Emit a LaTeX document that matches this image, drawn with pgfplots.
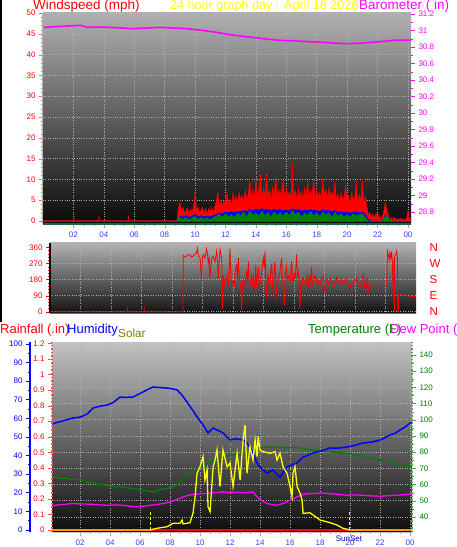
\documentclass[border=0pt]{standalone}
\usepackage{pgfplots}
\pgfplotsset{compat=1.18}
\usepackage{fontspec}
\setmainfont{Liberation Sans}
\definecolor{lblue}{RGB}{60,60,255}
\definecolor{wred}{RGB}{255,0,0}
\definecolor{mag}{RGB}{255,0,255}
\definecolor{dgreen}{RGB}{0,128,0}
\definecolor{olivec}{RGB}{128,128,0}
\definecolor{sunyel}{RGB}{255,255,0}
\definecolor{orng}{RGB}{255,150,0}
\definecolor{gridc}{RGB}{175,175,175}
\definecolor{teal2}{RGB}{30,100,70}
\pgfplotsset{
  base/.style={scale only axis, anchor=south west,
    tick label style={font=\fontsize{8}{9}\selectfont},
    /pgf/number format/assume math mode=true,
    tick align=outside, major tick length=4pt, minor tick length=2pt,
    grid style={dotted, gridc, line width=0.6pt}},
  hours/.style={xtick={2,4,...,24}, xticklabels={02,04,06,08,10,12,14,16,18,20,22,00},
    minor x tick num=2, xticklabel style={text=lblue}, x tick style={gray!70}},
}
\begin{document}
\begin{tikzpicture}
\useasboundingbox (0pt,0pt) rectangle (456pt,547pt);
\fill[white] (0pt,0pt) rectangle (456pt,547pt);
\draw[black, line width=2.5pt] (1pt,547pt) -- (1pt,225pt);

% ================= TOP PANEL: windspeed =================
\begin{axis}[base, hours, at={(43pt,323pt)}, width=368pt, height=211pt,
  xmin=0, xmax=24.2, ymin=-0.7, ymax=50,
  axis background/.style={top color=black!31, bottom color=black!96},
  axis x line*=bottom, axis y line*=left,
  x axis line style={draw=teal2, line width=2pt, -},
  y axis line style={draw=gray!60, line width=1pt, -},
  ytick={0,5,...,50}, minor y tick num=4,
  yticklabel style={text=wred}, y tick style={wred!60},
  grid=major]
\addplot[fill=wred, draw=wred, line width=0.4pt] coordinates {
(0,0.1) (2.0,0.1) (2.03,1.3) (2.06,0.1) (3.65,0.1) (3.68,1.3) (3.71,0.1)
(5.58,0.1) (5.61,1.3) (5.64,0.1) (8.8,0.1)
(8.9,3.0) (9.0,4.5) (9.1,2.2) (9.2,3.3) (9.3,1.8) (9.4,2.6) (9.5,3.2) (9.6,1.7) (9.7,2.9) (9.8,2.1) (9.9,3.4)
(10.0,6.9) (10.1,2.5) (10.2,3.3) (10.3,1.8) (10.4,2.7) (10.5,3.3) (10.6,2.0) (10.7,3.0) (10.8,1.7) (10.9,3.1)
(11.0,2.2) (11.1,3.3) (11.2,2.0) (11.3,3.5) (11.4,4.9) (11.5,6.9) (11.6,3.8) (11.7,4.9) (11.8,3.5) (11.9,5.0)
(12.0,4.0) (12.1,6.9) (12.2,4.2) (12.3,5.2) (12.4,3.6) (12.5,6.9) (12.6,4.5) (12.7,6.0) (12.8,4.5) (12.9,7.0)
(13.0,5.0) (13.1,6.3) (13.2,4.6) (13.3,7.5) (13.4,5.2) (13.5,6.5) (13.6,10.1) (13.7,5.5) (13.8,7.7) (13.9,5.6)
(14.0,10.1) (14.1,6.0) (14.2,7.8) (14.3,11.3) (14.4,5.5) (14.5,8.0) (14.6,6.2) (14.7,11.3) (14.8,6.0) (14.9,7.5)
(15.0,5.4) (15.1,8.2) (15.2,6.0) (15.3,11.0) (15.4,5.8) (15.5,7.6) (15.6,6.0) (15.7,8.0) (15.8,9.7) (15.9,5.5)
(16.0,7.8) (16.1,6.2) (16.2,7.0) (16.3,5.5) (16.4,13.8) (16.5,6.0) (16.6,7.5) (16.7,5.2) (16.8,8.0) (16.9,6.0)
(17.0,7.2) (17.1,5.6) (17.2,8.0) (17.3,6.0) (17.4,9.7) (17.5,5.8) (17.6,7.5) (17.7,6.2) (17.8,10.1) (17.9,5.5)
(18.0,7.8) (18.1,6.0) (18.2,7.0) (18.3,5.5) (18.4,10.5) (18.5,6.2) (18.6,7.6) (18.7,5.4) (18.8,8.0) (18.9,6.3)
(19.0,7.0) (19.1,5.5) (19.2,9.7) (19.3,5.2) (19.4,6.5) (19.5,4.5) (19.6,7.0) (19.7,5.0) (19.8,6.0) (19.9,8.5)
(20.0,4.5) (20.1,6.2) (20.2,4.0) (20.3,7.0) (20.4,5.0) (20.5,6.0) (20.6,9.7) (20.7,4.5) (20.8,6.5) (20.9,5.0)
(21.0,10.1) (21.1,4.5) (21.2,6.0) (21.3,3.5) (21.4,1.5) (21.5,2.0) (21.6,0.8) (21.7,1.7) (21.8,0.6) (21.9,1.9)
(22.0,1.0) (22.1,1.6) (22.2,0.5) (22.3,1.2) (22.4,2.0) (22.5,4.5) (22.6,3.0) (22.7,1.5) (22.8,0.5) (22.9,0.8)
(23.0,0.2) (23.1,0.9) (23.2,0.3) (23.3,0.6) (23.4,0.1) (23.5,0.8) (23.6,0.2) (23.7,0.5) (23.8,0.1) (23.9,0.7)
(24.0,2.5) (24.1,0.4) (24.2,0.8)
} \closedcycle;
\addplot[fill=blue, draw=blue, line width=0.4pt] coordinates {
(0,0) (8.8,0) (9.0,1.2) (9.2,1.0) (9.4,1.3) (9.6,0.9) (9.8,1.2) (10.0,1.6) (10.2,1.0) (10.4,1.3) (10.6,1.0)
(10.8,1.2) (11.0,1.0) (11.2,1.3) (11.4,1.6) (11.6,2.0) (11.8,1.8) (12.0,2.2) (12.2,2.0) (12.4,2.3) (12.6,2.0)
(12.8,2.4) (13.0,2.2) (13.2,2.6) (13.4,2.3) (13.6,2.8) (13.8,2.5) (14.0,2.9) (14.2,2.6) (14.4,3.0) (14.6,2.7)
(14.8,2.8) (15.0,2.5) (15.2,2.9) (15.4,2.6) (15.6,2.8) (15.8,2.5) (16.0,2.7) (16.2,2.4) (16.4,3.0) (16.6,2.6)
(16.8,2.8) (17.0,2.4) (17.2,2.7) (17.4,2.5) (17.6,2.8) (17.8,2.6) (18.0,2.5) (18.2,2.3) (18.4,2.8) (18.6,2.5)
(18.8,2.6) (19.0,2.3) (19.2,2.6) (19.4,2.1) (19.6,2.4) (19.8,2.0) (20.0,2.2) (20.2,1.9) (20.4,2.1) (20.6,2.3)
(20.8,2.0) (21.0,2.2) (21.2,1.6) (21.4,0.4) (21.6,0) (22.3,0) (22.5,1.4) (22.7,1.0) (22.9,0) (24.2,0)
} \closedcycle;
\addplot[fill=dgreen, draw=dgreen, line width=0.4pt] coordinates {
(0,0) (8.8,0) (8.9,0.6) (9.0,1.0) (9.2,0.4) (9.4,0.9) (9.6,0.3) (9.8,0.8) (10.0,1.2) (10.2,0.4) (10.4,0.9)
(10.6,0.5) (10.8,0.8) (11.0,0.3) (11.2,0.9) (11.4,1.2) (11.6,1.6) (11.8,0.9) (12.0,1.8) (12.2,1.0) (12.4,1.6)
(12.6,0.8) (12.8,2.0) (13.0,1.2) (13.2,2.3) (13.4,1.0) (13.6,2.5) (13.8,1.4) (14.0,2.0) (14.2,1.2) (14.4,2.4)
(14.6,1.3) (14.8,2.1) (15.0,1.0) (15.2,2.3) (15.4,1.4) (15.6,2.0) (15.8,1.1) (16.0,2.2) (16.2,1.3) (16.4,2.6)
(16.6,1.5) (16.8,2.2) (17.0,1.0) (17.2,2.0) (17.4,1.4) (17.6,2.4) (17.8,1.2) (18.0,2.0) (18.2,1.1) (18.4,2.3)
(18.6,1.5) (18.8,2.0) (19.0,1.0) (19.2,2.2) (19.4,1.2) (19.6,1.8) (19.8,0.9) (20.0,1.6) (20.2,1.0) (20.4,1.8)
(20.6,1.2) (20.8,1.6) (21.0,1.9) (21.2,0.9) (21.4,0) (22.3,0) (22.4,0.8) (22.6,1.2) (22.8,0.4) (22.9,0) (24.2,0)
} \closedcycle;
\end{axis}

% barometer overlay
\begin{axis}[base, at={(43pt,323pt)}, width=368pt, height=211pt,
  xmin=0, xmax=24.2, ymin=28.654, ymax=31.212,
  axis x line=none, axis y line*=right,
  y axis line style={draw=none},
  ytick={28.8,29,29.2,29.4,29.6,29.8,30,30.2,30.4,30.6,30.8,31,31.2},
  minor y tick num=1,
  yticklabel style={text=mag}, y tick style={mag}]
\addplot[mag, line width=1.6pt] coordinates {
(0.04,31.038) (0.8,31.046) (1.6,31.054) (2.5,31.062) (2.9,31.038) (3.6,31.042) (4.4,31.038)
(5.2,31.030) (5.9,31.021) (6.8,31.030) (7.7,31.038) (8.6,31.030) (9.5,31.021) (10.4,31.003)
(11.2,30.984) (11.9,30.962) (12.5,30.944) (13.2,30.928) (13.8,30.916) (14.6,30.899) (15.4,30.883)
(16.1,30.876) (16.9,30.871) (17.6,30.864) (18.2,30.859) (19.1,30.848) (19.9,30.840) (20.4,30.842)
(20.9,30.847) (21.6,30.856) (22.2,30.865) (22.7,30.874) (23.2,30.883) (24.2,30.883)
};
\end{axis}

% ================= MIDDLE PANEL: wind direction =================
\begin{axis}[base, at={(50pt,233.5pt)}, width=366pt, height=70.5pt,
  xmin=0, xmax=24, ymin=-10, ymax=384,
  axis background/.style={top color=black!30, bottom color=black!93},
  axis x line*=bottom, axis y line*=left,
  x axis line style={draw=wred!80, line width=1.2pt, -},
  y axis line style={draw=black, line width=2.2pt, -},
  xtick={2,4,...,22}, xticklabels={}, x tick style={draw=none},
  ytick={0,90,180,270,360}, minor y tick num=4,
  yticklabel style={text=wred}, y tick style={wred},
  grid=major]
\addplot[wred, line width=0.8pt] coordinates {
(0,0) (5.07,0) (5.09,13) (5.11,0) (6.16,0) (6.18,15) (6.20,0) (8.72,0)
(8.74,315) (8.85,305) (8.96,310) (9.07,320) (9.18,318) (9.29,305) (9.40,312) (9.51,322) (9.62,330) (9.66,354)
(9.73,310) (9.84,300) (9.94,181) (10.0,305) (10.05,320) (10.16,300) (10.27,351) (10.33,320) (10.38,270)
(10.44,300) (10.49,192) (10.55,240) (10.6,300) (10.71,310) (10.82,280) (10.93,340) (11.04,190) (11.1,300)
(11.15,350) (11.21,320) (11.26,300) (11.32,15) (11.37,200) (11.43,150) (11.48,170) (11.58,200) (11.69,140)
(11.80,354) (11.85,200) (11.91,150) (12.02,170) (12.08,140) (12.13,220) (12.24,260) (12.30,180) (12.35,300)
(12.41,200) (12.46,160) (12.51,140) (12.57,10) (12.62,150) (12.68,180) (12.79,140) (12.90,230) (12.95,160)
(13.01,280) (13.06,170) (13.11,150) (13.22,200) (13.27,140) (13.33,200) (13.44,120) (13.49,260) (13.55,130)
(13.60,200) (13.66,250) (13.71,140) (13.77,160) (13.88,220) (13.99,300) (14.05,240) (14.10,340) (14.15,170)
(14.21,78) (14.26,190) (14.32,200) (14.37,130) (14.43,150) (14.48,230) (14.54,270) (14.59,160) (14.64,100)
(14.70,230) (14.75,280) (14.81,150) (14.86,80) (14.92,170) (15.03,200) (15.08,220) (15.13,260) (15.19,300)
(15.24,160) (15.30,150) (15.37,37) (15.42,200) (15.52,250) (15.57,160) (15.63,200) (15.74,170) (15.79,230)
(15.85,280) (15.90,180) (15.96,150) (16.01,220) (16.07,180) (16.17,320) (16.23,200) (16.28,220) (16.34,160)
(16.39,16) (16.45,150) (16.50,130) (16.56,180) (16.61,190) (16.72,160) (16.83,150) (16.88,210) (16.94,140)
(17.05,200) (17.10,170) (17.16,250) (17.21,150) (17.27,160) (17.38,200) (17.49,180) (17.54,140) (17.60,170)
(17.70,150) (17.81,190) (17.92,200) (17.97,150) (18.03,100) (18.08,170) (18.14,180) (18.25,150) (18.36,190)
(18.47,160) (18.58,170) (18.69,140) (18.80,190) (18.91,160) (19.02,160) (19.13,185) (19.24,150) (19.35,175)
(19.45,180) (19.56,140) (19.67,130) (19.78,170) (19.89,150) (20.00,165) (20.11,190) (20.22,150) (20.33,140)
(20.44,175) (20.55,213) (20.60,130) (20.66,170) (20.77,130) (20.83,190) (20.88,120) (20.93,150) (20.98,145)
(22.08,145) (22.12,340) (22.18,320) (22.24,290) (22.29,330) (22.35,300) (22.40,335) (22.45,280) (22.51,84)
(22.56,300) (22.58,0) (22.60,310) (22.67,320) (22.73,340) (22.78,300) (22.80,0) (22.84,0) (22.88,95)
(22.95,93) (23.61,93) (23.65,85) (24,85)
};
\end{axis}
\begin{axis}[base, at={(50pt,233.5pt)}, width=366pt, height=70.5pt,
  xmin=0, xmax=24, ymin=-10, ymax=384,
  axis x line=none, axis y line*=right, y axis line style={draw=none},
  ytick={0,90,180,270,360}, yticklabels={N,E,S,W,N},
  major tick length=0pt,
  yticklabel style={text=wred, font=\fontsize{11.5}{12}\selectfont, xshift=10pt}]
\end{axis}

% ================= BOTTOM PANEL =================
\begin{axis}[base, hours, at={(52pt,15pt)}, width=360pt, height=190pt,
  xmin=0.13, xmax=24.13, ymin=30.7, ymax=148,
  axis background/.style={top color=black!24, bottom color=black!95},
  axis x line*=bottom, axis y line*=right,
  x axis line style={draw=gray!50, -},
  y axis line style={draw=dgreen!70, dotted, line width=1.5pt, -},
  ytick={40,50,...,140}, minor y tick num=1,
  yticklabel style={text=dgreen}, y tick style={dgreen!70},
  extra x ticks={19.93}, extra x tick labels={SunSet},
  extra x tick style={grid=none, major tick length=0pt, xticklabel style={text=blue!70!black}},
  grid=major]
\addplot[dgreen, line width=1.3pt] coordinates {
(0.13,64.6) (0.33,64.4) (0.9,63.8) (1.53,63.1) (2.2,62.7) (2.5,61.5) (2.87,60.7) (3.3,60.0) (3.8,59.6)
(4.2,59.1) (4.67,58.6) (5.1,58.1) (5.53,57.6) (5.9,57.0) (6.2,56.5) (6.5,56.0) (6.87,55.5) (7.1,56.0)
(7.33,56.9) (7.8,57.6) (8.2,58.6) (8.45,59.8) (8.67,61.6) (8.9,63.6) (9.13,65.8) (9.5,68.0) (9.8,69.9)
(10.1,71.5) (10.47,73.0) (10.9,74.6) (11.33,76.1) (11.7,77.3) (12.0,78.2) (12.67,78.2) (13.2,80.3)
(13.7,81.8) (14.2,82.9) (15.0,83.2) (15.8,82.6) (16.47,82.9) (17.0,82.0) (17.53,81.2) (18.1,80.8)
(18.67,80.2) (19.2,79.8) (19.8,79.2) (20.3,78.2) (20.87,77.1) (21.4,76.2) (22.0,75.1) (22.6,73.8)
(23.13,72.6) (23.6,71.6) (24.0,70.9) (24.13,70.8)
};
\addplot[mag, line width=1.3pt] coordinates {
(0.13,47.0) (0.33,47.2) (0.7,47.6) (1.1,47.9) (1.53,48.3) (2.0,48.0) (2.67,47.9) (3.2,47.5) (3.8,47.2)
(4.3,47.4) (4.87,47.2) (5.3,46.7) (5.8,46.2) (6.2,46.6) (6.67,47.2) (7.1,47.6) (7.53,48.3) (7.9,49.0)
(8.2,49.9) (8.55,51.2) (8.87,52.4) (9.2,53.3) (9.53,54.0) (10.0,54.2) (10.47,54.5) (11.0,55.0)
(11.53,55.5) (12.0,54.8) (12.5,55.3) (13.0,54.9) (13.53,55.5) (13.8,52.4) (14.1,50.0) (14.47,48.3)
(14.8,47.6) (15.13,47.2) (15.53,48.3) (16.0,50.3) (16.47,52.4) (16.87,54.0) (17.5,54.5) (18.2,54.8)
(18.7,54.3) (19.13,54.0) (19.8,53.4) (20.3,53.6) (20.87,53.4) (21.4,53.0) (22.0,52.8) (22.6,53.1)
(23.13,53.4) (23.6,53.8) (24.0,54.0) (24.13,54.1)
};
\end{axis}

\begin{axis}[base, at={(52pt,15pt)}, width=360pt, height=190pt,
  xmin=0.13, xmax=24.13, ymin=-1.08, ymax=101.08, hide axis]
\addplot[blue, line width=1.5pt] coordinates {
(0.13,57.0) (0.33,57.5) (0.8,58.5) (1.2,59.5) (1.53,60.2) (1.9,60.5) (2.2,61.3) (2.5,62.5) (2.87,65.6)
(3.3,66.5) (3.8,67.2) (4.2,68.5) (4.67,71.5) (5.0,71.3) (5.53,71.5) (5.9,73.0) (6.2,74.2) (6.5,75.5)
(6.87,76.9) (7.3,76.6) (7.8,76.3) (8.1,76.0) (8.47,75.3) (8.8,72.5) (9.13,68.8) (9.5,64.5) (9.8,60.8)
(10.2,56.5) (10.53,52.2) (10.87,54.8) (11.2,53.5) (11.53,52.2) (11.8,50.0) (12.0,48.4) (12.4,49.0)
(12.87,48.4) (13.1,47.0) (13.33,44.6) (13.6,40.0) (13.8,36.0) (14.1,33.0) (14.47,30.6) (14.87,32.3)
(15.1,30.0) (15.33,28.5) (15.6,31.5) (15.8,33.9) (16.1,35.0) (16.47,36.0) (16.87,39.2) (17.2,40.2)
(17.53,41.4) (18.1,42.5) (18.67,44.1) (19.2,44.0) (19.8,44.6) (20.3,45.5) (20.87,46.8) (21.4,47.2)
(22.0,48.4) (22.3,49.5) (22.67,51.1) (23.0,52.0) (23.33,53.8) (23.7,55.5) (24.0,57.5) (24.13,57.8)
};
\end{axis}

\begin{axis}[base, at={(52pt,15pt)}, width=360pt, height=190pt,
  xmin=0.13, xmax=24.13, ymin=-0.0129, ymax=1.2097,
  axis x line=none, axis y line*=left,
  y axis line style={draw=wred!70, dotted, line width=1.5pt, -},
  ytick={0,0.1,0.2,0.3,0.4,0.5,0.6,0.7,0.8,0.9,1,1.1,1.2},
  yticklabel style={text=wred}, y tick style={wred!70}]
\addplot[wred, line width=1.6pt] coordinates {(0.13,0) (24.13,0)};
\end{axis}

\begin{axis}[base, at={(52pt,15pt)}, width=360pt, height=190pt,
  xmin=0.13, xmax=24.13, ymin=-12.9, ymax=1209.7, hide axis]
\addplot[orng, line width=1.6pt] coordinates {(0.13,0) (6.67,0)};
\addplot[orng, line width=1.6pt] coordinates {(19.93,0) (24.13,0)};
\addplot[sunyel, densely dashed, line width=0.8pt] coordinates {(6.67,0) (6.67,120)};
\addplot[sunyel, densely dashed, line width=0.8pt] coordinates {(19.93,0) (19.93,120)};
\addplot[sunyel, line width=1.3pt] coordinates {
(6.67,0) (7.13,11) (7.8,21) (8.2,43) (8.67,43) (8.8,64) (8.87,39) (9.33,47) (9.53,107) (9.67,214)
(9.8,365) (10.0,407) (10.2,472) (10.33,322) (10.47,386) (10.53,150) (10.67,118) (10.87,407) (11.0,450)
(11.13,515) (11.33,279) (11.47,450) (11.53,515) (11.8,407) (12.0,431) (12.2,279) (12.47,494) (12.67,322)
(12.87,579) (13.0,676) (13.13,365) (13.33,536) (13.53,450) (13.67,579) (13.8,472) (13.87,600) (14.0,515)
(14.2,504) (14.67,494) (15.0,504) (15.13,450) (15.33,494) (15.53,407) (15.8,365) (16.0,279) (16.13,214)
(16.2,365) (16.33,407) (16.47,279) (16.67,236) (16.8,193) (16.87,107) (17.33,111) (17.53,97) (18.0,64)
(18.67,47) (19.13,32) (19.53,11) (20.0,0)
};
\end{axis}

\begin{axis}[base, at={(30pt,15pt)}, width=0.5pt, height=190pt,
  xmin=0, xmax=1, ymin=-1.08, ymax=101.08,
  axis x line=none, axis y line*=left,
  y axis line style={draw=blue, line width=2.5pt, -},
  ytick={0,10,...,100}, minor y tick num=1,
  yticklabel style={text=blue}, y tick style={blue, line width=0.8pt}]
\end{axis}

% ================= TITLES =================
\begin{scope}[every node/.style={inner sep=0pt, anchor=base west, font=\fontsize{13}{14}\selectfont}]
\node[text=wred, font=\fontsize{13.5}{14}\selectfont] at (33pt,537pt) {Windspeed (mph)};
\node[text=sunyel, font=\fontsize{12.6}{14}\selectfont] at (170pt,537pt) {24 hour graph day : April 18 2026};
\node[text=mag, font=\fontsize{13.5}{14}\selectfont] at (359pt,537pt) {Barometer ( in)};
\node[text=wred] at (0pt,213.7pt) {Rainfall (.in)};
\node[text=blue] at (67pt,213.7pt) {Humidity};
\node[text=olivec, font=\fontsize{11.7}{12}\selectfont] at (118pt,209.3pt) {Solar};
\node[text=dgreen] at (308pt,213.7pt) {Temperature (F)};
\node[text=mag] at (390pt,213.7pt) {Dew Point (};
\end{scope}
\end{tikzpicture}
\end{document}
